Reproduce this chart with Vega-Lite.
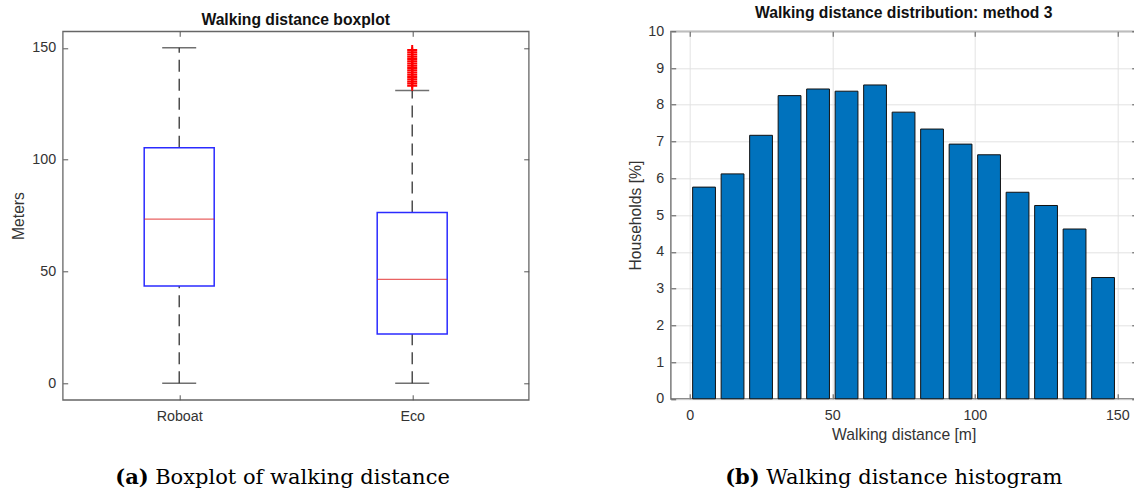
{
  "$schema": "https://vega.github.io/schema/vega-lite/v6.json",
  "background": "white",
  "padding": {"left": 9.7, "top": 4.3, "right": 0, "bottom": 0},
  "spacing": 96,
  "datasets": {
    "stats": [
      {"group": "Roboat", "lower": 0, "q1": 43.5, "median": 73.4, "q3": 105.3, "upper": 150},
      {"group": "Eco", "lower": 0, "q1": 22.0, "median": 46.5, "q3": 76.4, "upper": 130.9}
    ],
    "outliers": [
      {"group": "Eco", "value": 133}, {"group": "Eco", "value": 134}, {"group": "Eco", "value": 135},
      {"group": "Eco", "value": 136}, {"group": "Eco", "value": 137}, {"group": "Eco", "value": 138},
      {"group": "Eco", "value": 139}, {"group": "Eco", "value": 140}, {"group": "Eco", "value": 141},
      {"group": "Eco", "value": 142}, {"group": "Eco", "value": 143}, {"group": "Eco", "value": 144},
      {"group": "Eco", "value": 145}, {"group": "Eco", "value": 146}, {"group": "Eco", "value": 147},
      {"group": "Eco", "value": 148}, {"group": "Eco", "value": 149}
    ],
    "hist": [
      {"center": 5, "pct": 5.76}, {"center": 15, "pct": 6.12}, {"center": 25, "pct": 7.17},
      {"center": 35, "pct": 8.25}, {"center": 45, "pct": 8.43}, {"center": 55, "pct": 8.37},
      {"center": 65, "pct": 8.54}, {"center": 75, "pct": 7.80}, {"center": 85, "pct": 7.34},
      {"center": 95, "pct": 6.93}, {"center": 105, "pct": 6.64}, {"center": 115, "pct": 5.62},
      {"center": 125, "pct": 5.26}, {"center": 135, "pct": 4.62}, {"center": 145, "pct": 3.30}
    ]
  },
  "config": {
    "view": {"stroke": "#666666", "strokeWidth": 1.3},
    "axis": {
      "domain": false,
      "grid": false,
      "tickColor": "#555555",
      "tickWidth": 1,
      "tickSize": -5,
      "labelFont": "Liberation Sans",
      "labelFontSize": 14.3,
      "labelColor": "#333333",
      "titleFont": "Liberation Sans",
      "titleFontSize": 15.7,
      "titleFontWeight": "normal",
      "titleColor": "#333333"
    },
    "title": {"font": "Liberation Sans", "fontSize": 15.7, "fontWeight": "bold", "color": "#111111", "anchor": "middle", "frame": "group", "offset": 2.4}
  },
  "hconcat": [
    {
      "width": 466,
      "height": 368.5,
      "title": "Walking distance boxplot",
      "layer": [
        {
          "data": {"name": "stats"},
          "mark": {"type": "rule", "strokeDash": [12, 7], "color": "#222222", "strokeWidth": 1.2},
          "encoding": {
            "x": {"field": "group", "type": "nominal", "scale": {"type": "point", "domain": ["Roboat", "Eco"], "padding": 0.5},
                  "axis": {"orient": "bottom", "labelAngle": 0, "labelPadding": 15, "title": "(a)", "titleFont": "DejaVu Serif", "titleFontWeight": "bold", "titleFontSize": 21, "titleColor": "#000000", "titleX": 52, "titleY": 84, "titleAlign": "left", "titleBaseline": "alphabetic"}},
            "y": {"field": "q3", "type": "quantitative", "scale": {"domain": [-7.4, 157.4], "nice": false, "zero": false},
                  "axis": {"orient": "left", "values": [0, 50, 100, 150], "labelPadding": 12, "title": "Meters", "titlePadding": 5}},
            "y2": {"field": "upper"}
          }
        },
        {
          "data": {"name": "stats"},
          "mark": {"type": "rule", "strokeDash": [12, 7], "color": "#222222", "strokeWidth": 1.2},
          "encoding": {
            "x": {"field": "group", "type": "nominal", "scale": {"type": "point", "domain": ["Roboat", "Eco"], "padding": 0.5}, "axis": null},
            "y": {"field": "lower", "type": "quantitative", "scale": {"domain": [-7.4, 157.4], "nice": false, "zero": false}, "axis": null},
            "y2": {"field": "q1"}
          }
        },
        {
          "data": {"name": "stats"},
          "mark": {"type": "tick", "orient": "horizontal", "size": 34, "thickness": 1.5, "color": "#333333"},
          "encoding": {
            "x": {"field": "group", "type": "nominal", "scale": {"type": "point", "domain": ["Roboat", "Eco"], "padding": 0.5}, "axis": null},
            "y": {"field": "upper", "type": "quantitative", "scale": {"domain": [-7.4, 157.4], "nice": false, "zero": false}, "axis": null}
          }
        },
        {
          "data": {"name": "stats"},
          "mark": {"type": "tick", "orient": "horizontal", "size": 34, "thickness": 1.5, "color": "#333333"},
          "encoding": {
            "x": {"field": "group", "type": "nominal", "scale": {"type": "point", "domain": ["Roboat", "Eco"], "padding": 0.5}, "axis": null},
            "y": {"field": "lower", "type": "quantitative", "scale": {"domain": [-7.4, 157.4], "nice": false, "zero": false}, "axis": null}
          }
        },
        {
          "data": {"name": "stats"},
          "mark": {"type": "bar", "size": 70, "fill": "white", "stroke": "#2b2bff", "strokeWidth": 1.5},
          "encoding": {
            "x": {"field": "group", "type": "nominal", "scale": {"type": "point", "domain": ["Roboat", "Eco"], "padding": 0.5}, "axis": null},
            "y": {"field": "q1", "type": "quantitative", "scale": {"domain": [-7.4, 157.4], "nice": false, "zero": false}, "axis": null},
            "y2": {"field": "q3"}
          }
        },
        {
          "data": {"name": "stats"},
          "mark": {"type": "tick", "orient": "horizontal", "size": 70, "thickness": 1.2, "color": "#e02020"},
          "encoding": {
            "x": {"field": "group", "type": "nominal", "scale": {"type": "point", "domain": ["Roboat", "Eco"], "padding": 0.5}, "axis": null},
            "y": {"field": "median", "type": "quantitative", "scale": {"domain": [-7.4, 157.4], "nice": false, "zero": false}, "axis": null}
          }
        },
        {
          "data": {"name": "outliers"},
          "mark": {"type": "point", "shape": "M-1,0L1,0M0,-1L0,1", "filled": false, "stroke": "#ff0000", "strokeWidth": 2, "size": 100, "opacity": 1},
          "encoding": {
            "x": {"field": "group", "type": "nominal", "scale": {"type": "point", "domain": ["Roboat", "Eco"], "padding": 0.5},
                  "axis": {"orient": "top", "labels": false, "title": null}},
            "y": {"field": "value", "type": "quantitative", "scale": {"domain": [-7.4, 157.4], "nice": false, "zero": false},
                  "axis": {"orient": "right", "values": [0, 50, 100, 150], "labels": false, "title": "Boxplot of walking distance", "titleAngle": 0, "titleFont": "DejaVu Serif", "titleFontWeight": "normal", "titleFontSize": 21, "titleColor": "#000000", "titleX": -374, "titleY": 452.5, "titleAlign": "left", "titleBaseline": "alphabetic"}}
          }
        }
      ],
      "resolve": {"scale": {"x": "shared", "y": "shared"}, "axis": {"x": "independent", "y": "independent"}}
    },
    {
      "width": 466,
      "height": 367.5,
      "title": "Walking distance distribution: method 3",
      "data": {"name": "hist"},
      "layer": [
        {
          "mark": {"type": "bar", "orient": "vertical", "size": 22.8, "fill": "#0072BD", "stroke": "#111111", "strokeWidth": 1},
          "encoding": {
            "x": {"field": "center", "type": "quantitative", "scale": {"domain": [-6.7, 156.8], "nice": false, "zero": false, "padding": 0},
                  "axis": {"orient": "bottom", "values": [0, 50, 100, 150], "grid": true, "gridColor": "#e3e3e3", "labelPadding": 15, "title": "Walking distance [m]", "titlePadding": 4}},
            "y": {"field": "pct", "type": "quantitative", "scale": {"domain": [0, 10], "nice": false, "padding": 0},
                  "axis": {"orient": "left", "values": [0, 1, 2, 3, 4, 5, 6, 7, 8, 9, 10], "grid": true, "gridColor": "#e3e3e3", "labelPadding": 12, "title": "Households [%]", "titlePadding": 4}}
          }
        },
        {
          "mark": {"type": "bar", "orient": "vertical", "size": 22.8, "opacity": 0},
          "encoding": {
            "x": {"field": "center", "type": "quantitative", "scale": {"domain": [-6.7, 156.8], "nice": false, "zero": false, "padding": 0},
                  "axis": {"orient": "top", "values": [0, 50, 100, 150], "labels": false, "title": "(b)", "titleFont": "DejaVu Serif", "titleFontWeight": "bold", "titleFontSize": 21, "titleColor": "#000000", "titleX": 54, "titleY": 452, "titleAlign": "left", "titleBaseline": "alphabetic"}},
            "y": {"field": "pct", "type": "quantitative", "scale": {"domain": [0, 10], "nice": false, "padding": 0},
                  "axis": {"orient": "right", "values": [0, 1, 2, 3, 4, 5, 6, 7, 8, 9, 10], "labels": false, "title": "Walking distance histogram", "titleAngle": 0, "titleFont": "DejaVu Serif", "titleFontWeight": "normal", "titleFontSize": 21, "titleColor": "#000000", "titleX": -371, "titleY": 452, "titleAlign": "left", "titleBaseline": "alphabetic"}}
          }
        }
      ],
      "resolve": {"scale": {"x": "shared", "y": "shared"}, "axis": {"x": "independent", "y": "independent"}}
    }
  ]
}
